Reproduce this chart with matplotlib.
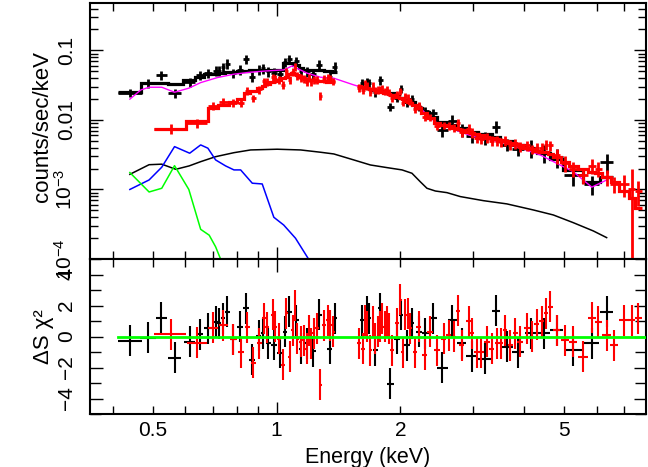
import numpy as np
import matplotlib
matplotlib.use("Agg")
import matplotlib.pyplot as plt
from matplotlib.ticker import FixedLocator, FuncFormatter, NullFormatter

# ---- data ----
# black group: bin centre (keV), half width (keV), counts/sec/keV, model, delchi
black_e = [0.441, 0.488, 0.525, 0.566, 0.615, 0.650, 0.682, 0.711, 0.726, 0.741,
           0.759, 0.785, 0.815, 0.842, 0.873, 0.906, 0.928, 0.955, 0.985, 1.019,
           1.047, 1.075, 1.118, 1.144, 1.187, 1.227, 1.267, 1.347, 1.385, 1.615,
           1.660, 1.681, 1.738, 1.789, 1.891, 1.963, 2.010, 2.075, 2.134, 2.217,
           2.300, 2.400, 2.532, 2.677, 2.819, 2.995, 3.214, 3.414, 3.630, 3.873,
           4.157, 4.461, 4.795, 5.265, 5.840, 6.350]
black_de = [0.029, 0.022, 0.017, 0.020, 0.018, 0.014, 0.014, 0.010, 0.008, 0.008,
            0.010, 0.013, 0.014, 0.013, 0.015, 0.013, 0.012, 0.014, 0.015, 0.016,
            0.013, 0.015, 0.016, 0.012, 0.020, 0.020, 0.022, 0.020, 0.018, 0.022,
            0.018, 0.012, 0.026, 0.025, 0.035, 0.030, 0.025, 0.032, 0.030, 0.040,
            0.045, 0.055, 0.075, 0.070, 0.075, 0.10, 0.12, 0.08, 0.13, 0.13,
            0.14, 0.16, 0.17, 0.28, 0.25, 0.24]
black_flux = [0.0247, 0.0337, 0.0440, 0.0242, 0.0350, 0.0440, 0.0470, 0.0512, 0.0512, 0.0573,
              0.0640, 0.0470, 0.0524, 0.0747, 0.0420, 0.0524, 0.0550, 0.0500, 0.0480, 0.0450,
              0.0680, 0.0750, 0.0700, 0.0500, 0.0500, 0.0460, 0.0620, 0.0420, 0.0580, 0.0340,
              0.0356, 0.0340, 0.0250, 0.0370, 0.0154, 0.0210, 0.0280, 0.0180, 0.0200, 0.0155,
              0.0135, 0.0125, 0.0071, 0.0097, 0.0072, 0.0058, 0.0055, 0.0080, 0.0044, 0.0038,
              0.0040, 0.0034, 0.0029, 0.0016, 0.0012, 0.0025]
black_ferr = [0.14] * 6 + [0.16] * 23 + [0.14] * 13 + [0.2] * 8 + [0.3] * 6
black_model = [0.0250, 0.0340, 0.0340, 0.0330, 0.0370, 0.0420, 0.0450, 0.0460, 0.0470, 0.0480,
               0.0490, 0.0490, 0.0500, 0.0510, 0.0520, 0.0520, 0.0530, 0.0530, 0.0530, 0.0530,
               0.0650, 0.0650, 0.0620, 0.0560, 0.0530, 0.0520, 0.0520, 0.0500, 0.0490, 0.0300,
               0.0290, 0.0280, 0.0270, 0.0260, 0.0240, 0.0220, 0.0210, 0.0190, 0.0180, 0.0150,
               0.0130, 0.0110, 0.0092, 0.0085, 0.0077, 0.0068, 0.0062, 0.0057, 0.0049, 0.0044,
               0.0039, 0.0033, 0.0027, 0.0019, 0.0013, 0.0015]
black_resid = [-0.28, -0.09, 1.21, -1.36, -0.35, 0.15, 0.52, 0.95, 0.84, 1.17,
               1.6, -0.17, 0.63, 1.82, -1.5, 0.04, 0.2, -0.45, -0.52, -1.04,
               0.3, 1.6, 1.06, -0.78, -0.45, -0.95, 1.39, -0.78, 1.17, 1.06,
               1.6, 1.17, -0.89, 1.82, -3.05, -0.13, 1.4, -0.56, 0.84, 0.3,
               0.2, 1.17, -2.03, 1.06, -0.45, -1.26, -1.43, 1.65, -0.67, -1.0,
               0.2, 0.2, 0.41, -0.89, -0.45, 1.6]

# red group
red_e = [0.553, 0.642, 0.700, 0.742, 0.785, 0.818, 0.849, 0.878, 0.909, 0.932,
         0.949, 0.978, 0.994, 1.013, 1.038, 1.057, 1.077, 1.094, 1.110, 1.123,
         1.144, 1.165, 1.183, 1.200, 1.214, 1.232, 1.255, 1.279, 1.303, 1.332,
         1.352, 1.373, 1.588, 1.623, 1.642, 1.660, 1.691, 1.713, 1.733, 1.766,
         1.788, 1.805, 1.832, 1.857, 1.873, 1.909, 1.963, 2.000, 2.026, 2.057,
         2.088, 2.115, 2.167, 2.215, 2.291, 2.365, 2.455, 2.547, 2.620, 2.694,
         2.761, 2.823, 2.929, 2.985, 3.070, 3.145, 3.247, 3.339, 3.434, 3.517,
         3.596, 3.698, 3.803, 3.910, 4.060, 4.175, 4.294, 4.416, 4.523, 4.624,
         4.800, 5.029, 5.268, 5.570, 5.840, 6.058, 6.350, 6.625, 7.005, 7.300,
         7.576]
red_de = [0.050, 0.037, 0.020, 0.018, 0.016, 0.014, 0.013, 0.013, 0.011, 0.009,
          0.010, 0.011, 0.008, 0.010, 0.010, 0.009, 0.010, 0.008, 0.008, 0.008,
          0.010, 0.011, 0.009, 0.009, 0.009, 0.011, 0.012, 0.012, 0.013, 0.012,
          0.011, 0.011, 0.016, 0.014, 0.010, 0.012, 0.014, 0.011, 0.011, 0.013,
          0.010, 0.012, 0.013, 0.011, 0.012, 0.020, 0.022, 0.016, 0.016, 0.018,
          0.016, 0.020, 0.026, 0.030, 0.035, 0.038, 0.042, 0.040, 0.036, 0.037,
          0.032, 0.040, 0.035, 0.040, 0.045, 0.045, 0.050, 0.048, 0.045, 0.040,
          0.045, 0.050, 0.055, 0.060, 0.065, 0.060, 0.060, 0.060, 0.055, 0.065,
          0.10, 0.12, 0.12, 0.15, 0.13, 0.12, 0.15, 0.15, 0.19, 0.14,
          0.15]
red_flux = [0.0075, 0.0090, 0.0158, 0.0180, 0.0176, 0.0175, 0.0260, 0.0205, 0.0275, 0.0360,
            0.0350, 0.0410, 0.0390, 0.0375, 0.0320, 0.0500, 0.0380, 0.0490, 0.0580, 0.0430,
            0.0400, 0.0390, 0.0350, 0.0400, 0.0350, 0.0380, 0.0380, 0.0220, 0.0390, 0.0400,
            0.0390, 0.0360, 0.0290, 0.0270, 0.0340, 0.0310, 0.0250, 0.0310, 0.0265, 0.0270,
            0.0275, 0.0285, 0.0260, 0.0270, 0.0250, 0.0205, 0.0235, 0.0260, 0.0178, 0.0220,
            0.0210, 0.0185, 0.0145, 0.0160, 0.0110, 0.0108, 0.0081, 0.0084, 0.0082, 0.0077,
            0.0089, 0.0067, 0.0075, 0.0066, 0.0055, 0.0053, 0.0055, 0.0050, 0.0050, 0.0048,
            0.0051, 0.0044, 0.0046, 0.0041, 0.0043, 0.0038, 0.0040, 0.0040, 0.0044, 0.0043,
            0.0031, 0.0024, 0.0020, 0.0016, 0.0022, 0.0020, 0.0015, 0.0012, 0.0012, 0.0010,
            0.00095]
red_ferr = [0.15] * 2 + [0.13] * 30 + [0.12] * 28 + [0.16] * 20 + [0.25] * 8 + [0.35, 0.95, 0.4]
red_model = [0.0073, 0.0095, 0.0147, 0.0165, 0.0180, 0.0200, 0.0240, 0.0260, 0.0290, 0.0310,
             0.0330, 0.0350, 0.0360, 0.0380, 0.0400, 0.0420, 0.0450, 0.0470, 0.0460, 0.0440,
             0.0420, 0.0400, 0.0390, 0.0380, 0.0370, 0.0370, 0.0360, 0.0360, 0.0360, 0.0350,
             0.0350, 0.0350, 0.0310, 0.0300, 0.0295, 0.0290, 0.0280, 0.0275, 0.0270, 0.0260,
             0.0255, 0.0250, 0.0245, 0.0240, 0.0235, 0.0230, 0.0215, 0.0205, 0.0200, 0.0190,
             0.0180, 0.0174, 0.0162, 0.0150, 0.0125, 0.0105, 0.0090, 0.0085, 0.0081, 0.0077,
             0.0074, 0.0071, 0.0067, 0.0065, 0.0062, 0.0060, 0.0057, 0.0055, 0.0053, 0.0051,
             0.0049, 0.0047, 0.0045, 0.0043, 0.0040, 0.0038, 0.0036, 0.0035, 0.0034, 0.0032,
             0.0029, 0.0025, 0.0022, 0.0020, 0.0018, 0.0017, 0.0015, 0.0013, 0.00095, 0.00075,
             0.00055]
red_resid = [0.15, -0.39, 0.56, 0.74, -0.17, -1.0, 0.61, -1.69, -0.45, 1.17,
             0.61, 1.39, 0.63, -0.13, -1.82, 1.49, -1.32, 0.41, 1.97, -0.13,
             -0.35, -0.24, -0.78, 0.41, -0.45, 0.2, 0.52, -3.1, 0.74, 1.06,
             0.74, 0.3, -0.45, -0.78, 1.06, 0.63, -0.89, 0.95, -0.13, 0.3,
             0.63, 1.17, 0.63, 0.95, 0.52, -0.89, 0.84, 2.36, -1.0, 1.39,
             1.49, 0.52, -1.0, 0.63, -1.17, 0.3, -0.89, -0.13, 0.09, -0.02,
             1.65, -0.56, 1.0, 0.2, -1.0, -1.0, -0.35, -0.78, -0.45, -0.45,
             0.41, -0.56, 0.2, -0.35, 0.52, -0.02, 0.78, 1.0, 1.49, 1.93,
             0.41, -0.24, -0.35, -1.32, 1.21, 0.95, 0.09, -0.56, 1.06, 1.06,
             1.17]

# total model (magenta) and the model components
mag_e = [0.440, 0.468, 0.490, 0.526, 0.565, 0.612, 0.654, 0.718, 0.788, 0.865,
         0.949, 1.041, 1.092, 1.133, 1.187, 1.279, 1.378, 1.540, 1.691, 1.821,
         1.963, 2.115, 2.236, 2.321, 2.455, 3.012, 3.630, 4.374, 5.265, 5.84, 6.35]
mag_f = [0.0199, 0.0270, 0.0295, 0.0295, 0.0250, 0.0286, 0.0344, 0.0406, 0.0455, 0.0486,
         0.0507, 0.0524, 0.0598, 0.0536, 0.0470, 0.0411, 0.0398, 0.0319, 0.0270, 0.0242,
         0.0214, 0.0174, 0.0149, 0.0118, 0.0090, 0.00575, 0.00462, 0.00314, 0.0018, 0.00108, 0.00137]
pl_e = [0.440, 0.490, 0.526, 0.569, 0.613, 0.654, 0.711, 0.788, 0.865, 1.004,
        1.144, 1.279, 1.378, 1.540, 1.691, 1.857, 2.019, 2.134, 2.236, 2.321,
        2.433, 2.596, 2.797, 3.184, 3.630, 4.211, 4.707, 5.265, 5.891, 6.346]
pl_f = [1.65e-3, 2.27e-3, 2.31e-3, 1.95e-3, 2.18e-3, 2.51e-3, 2.96e-3, 3.38e-3, 3.70e-3, 3.79e-3,
        3.70e-3, 3.43e-3, 3.24e-3, 2.66e-3, 2.25e-3, 2.06e-3, 1.91e-3, 1.71e-3, 1.29e-3, 1.04e-3,
        9.5e-4, 9.0e-4, 7.9e-4, 6.9e-4, 6.2e-4, 5.07e-4, 4.3e-4, 3.33e-4, 2.53e-4, 2.03e-4]
blue_e = [0.440, 0.490, 0.526, 0.565, 0.615, 0.654, 0.681, 0.711, 0.752, 0.788,
          0.818, 0.873, 0.923, 0.985, 1.041, 1.112, 1.196, 1.22]
blue_f = [1.0e-3, 1.37e-3, 2.09e-3, 4.13e-3, 3.32e-3, 4.37e-3, 3.92e-3, 2.66e-3, 2.18e-3, 1.91e-3,
          1.91e-3, 1.23e-3, 1.20e-3, 3.98e-4, 3.08e-4, 1.99e-4, 1.0e-4, 8e-5]
green_e = [0.440, 0.490, 0.526, 0.565, 0.612, 0.654, 0.686, 0.711, 0.731, 0.75]
green_f = [1.75e-3, 9.2e-4, 1.04e-3, 2.2e-3, 1.0e-3, 2.67e-4, 2.2e-4, 1.5e-4, 1.0e-4, 7e-5]

x_ticklabels = {0.5: "0.5", 1: "1", 2: "2", 5: "5"}
y_ticklabels = {1e-1: "0.1", 1e-2: "0.01", 1e-3: r"$10^{-3}$", 1e-4: r"$10^{-4}$"}

plt.rcParams["font.family"] = ["Liberation Sans", "DejaVu Sans"]
plt.rcParams["mathtext.fontset"] = "custom"
plt.rcParams["mathtext.rm"] = "Liberation Sans"
plt.rcParams["mathtext.it"] = "Liberation Sans:italic"


def stair_segments(e, de, m):
    # split bins into contiguous runs (gap at 1.4-1.6 keV) and build edges
    e = np.asarray(e); de = np.asarray(de); m = np.asarray(m)
    lo = e - de
    hi = e + de
    runs = []
    start = 0
    for i in range(len(e) - 1):
        if lo[i + 1] - hi[i] > 0.1:
            runs.append((start, i + 1))
            start = i + 1
    runs.append((start, len(e)))
    out = []
    for a, b in runs:
        mids = (hi[a:b - 1] + lo[a + 1:b]) / 2
        edges = np.concatenate([[lo[a]], mids, [hi[b - 1]]])
        out.append((m[a:b], edges))
    return out


fig = plt.figure(figsize=(6.48, 4.67), dpi=100)
ax1 = fig.add_axes([90 / 648, 1 - 259 / 467, 556 / 648, 256 / 467])
ax2 = fig.add_axes([90 / 648, 1 - 414 / 467, 556 / 648, 155 / 467], sharex=ax1)

# top panel: components
ax1.plot(pl_e, pl_f, color="black", lw=1.1, zorder=2)
ax1.plot(blue_e, blue_f, color="#0000ff", lw=1.1, zorder=2)
ax1.plot(green_e, green_f, color="#00ff00", lw=1.1, zorder=2)

# black data + model
bflux = np.array(black_flux)
ax1.errorbar(black_e, bflux, xerr=black_de, yerr=bflux * np.array(black_ferr),
             fmt="none", ecolor="black", elinewidth=2, capsize=0, zorder=3)
for vals, edges in stair_segments(black_e, black_de, black_model):
    ax1.stairs(vals, edges, baseline=None, color="black", lw=2.3, zorder=3)

ax1.plot(mag_e, mag_f, color="#ff00ff", lw=1.0, zorder=4)

# red data + model
rflux = np.array(red_flux)
ax1.errorbar(red_e, rflux, xerr=red_de, yerr=rflux * np.array(red_ferr),
             fmt="none", ecolor="#ff0000", elinewidth=2, capsize=0, zorder=5)
for vals, edges in stair_segments(red_e, red_de, red_model):
    ax1.stairs(vals, edges, baseline=None, color="#ff0000", lw=2.3, zorder=5)

ax1.set_yscale("log")
ax1.set_ylim(1e-4, 0.48)

# bottom panel: residuals
ax2.errorbar(black_e, black_resid, xerr=black_de, yerr=1.0, fmt="none",
             ecolor="black", elinewidth=1.5, capsize=0, zorder=3)
ax2.errorbar(red_e, red_resid, xerr=red_de, yerr=1.0, fmt="none",
             ecolor="#ff0000", elinewidth=1.5, capsize=0, zorder=4)
ax2.plot([black_e[0] - black_de[0], 7.91], [0, 0], color="#00ff00", lw=2, zorder=5)
ax2.set_ylim(-5, 5)

ax2.set_xscale("log")
ax2.set_xlim(0.352, 7.91)

for ax in (ax1, ax2):
    ax.xaxis.set_major_locator(FixedLocator([1]))
    ax.xaxis.set_minor_locator(FixedLocator([0.4, 0.5, 0.6, 0.7, 0.8, 0.9, 2, 3, 4, 5, 6, 7]))
    ax.tick_params(which="both", direction="in", top=True, right=True, width=1.0)
    ax.tick_params(which="major", length=9)
    ax.tick_params(which="minor", length=6)
    for s in ax.spines.values():
        s.set_linewidth(1.5)

xfmt = FuncFormatter(lambda v, p: x_ticklabels.get(round(v, 3), ""))
ax2.xaxis.set_major_formatter(xfmt)
ax2.xaxis.set_minor_formatter(xfmt)
ax2.tick_params(axis="x", which="both", labelsize=15, pad=5)
ax1.tick_params(axis="x", which="both", labelbottom=False)

ax1.yaxis.set_major_locator(FixedLocator([1e-4, 1e-3, 1e-2, 1e-1]))
ax1.yaxis.set_minor_locator(FixedLocator([k * 10.0 ** d for d in range(-4, 0) for k in range(2, 10)]))
ax1.yaxis.set_major_formatter(FuncFormatter(lambda v, p: y_ticklabels.get(v, "")))
ax1.yaxis.set_minor_formatter(NullFormatter())

ax2.yaxis.set_major_locator(FixedLocator([-4, -2, 0, 2, 4]))
ax2.yaxis.set_minor_locator(FixedLocator([-5, -3, -1, 1, 3, 5]))
ax2.tick_params(axis="y", which="minor", length=8)
ax2.yaxis.set_major_formatter(FuncFormatter(lambda v, p: "%d" % v if v >= 0 else "\u2212%d" % -v))

for ax in (ax1, ax2):
    ax.tick_params(axis="y", labelsize=15, labelrotation=90, pad=10)
    for lab in ax.get_yticklabels():
        lab.set_va("center")

ax2.set_xlabel("Energy (keV)", fontsize=15.5, labelpad=5)
fig.text(43 / 648, 1 - 126 / 467, "counts/sec/keV", rotation=90, ha="center", va="center", fontsize=16)
fig.text(43 / 648, 1 - 337 / 467, "\u0394S \u03c7\u00b2", rotation=90, ha="center", va="center", fontsize=16)

fig.savefig("out.png", dpi=100)
